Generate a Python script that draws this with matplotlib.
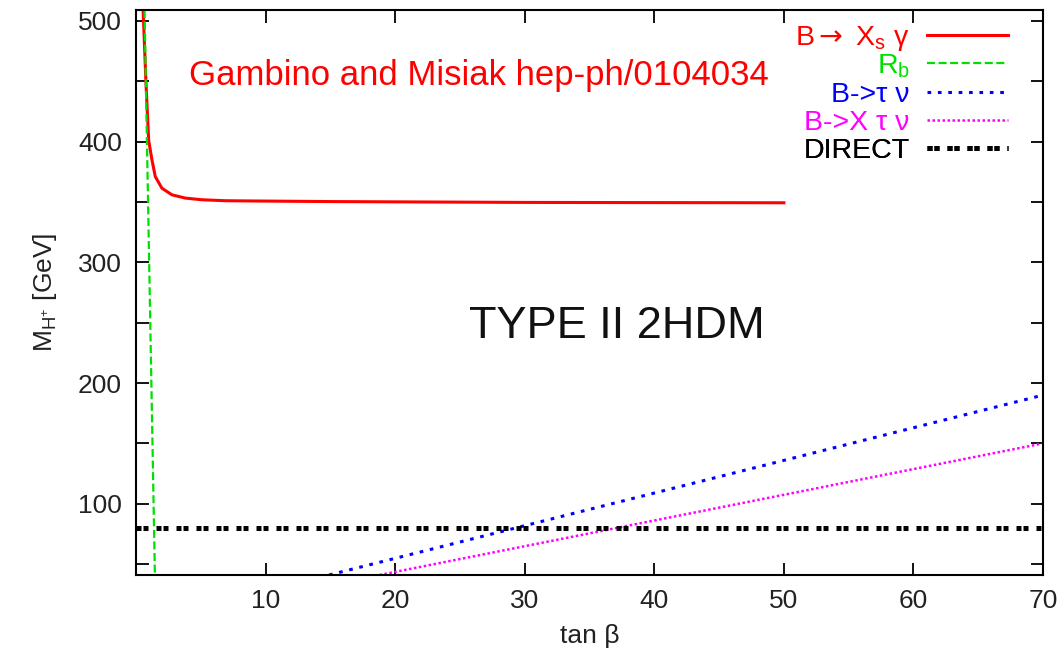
import matplotlib
matplotlib.use("Agg")
import matplotlib.pyplot as plt
from matplotlib.ticker import MultipleLocator, FuncFormatter

plt.rcParams['font.family'] = ['Liberation Sans', 'DejaVu Sans']
plt.rcParams['mathtext.fontset'] = 'custom'
plt.rcParams['mathtext.rm'] = 'Liberation Sans'
plt.rcParams['mathtext.it'] = 'Liberation Sans:italic'
plt.rcParams['mathtext.bf'] = 'Liberation Sans:bold'
plt.rcParams['mathtext.sf'] = 'DejaVu Sans'

# curves (tan beta, M_H+ in GeV)
tanb_bsg = [0.55, 0.77, 0.98, 1.23, 1.49, 2.0, 2.77, 3.8, 5.08, 6.88, 8.94, 15, 30, 50]
mh_bsg = [509, 449, 401, 385, 371, 361.4, 355.9, 353.2, 351.8, 351, 350.8, 350.3, 349.6, 349.3]

tanb_rb = [0.66, 1.46]
mh_rb = [509, 41]

tanb_btaunu = [14.9, 70]
mh_btaunu = [41, 190]

tanb_bxtaunu = [18.8, 70]
mh_bxtaunu = [41, 150]

tanb_direct = [0, 70]
mh_direct = [80, 80]

labels = ["B$\\mathsf{\\rightarrow}$ X$_\\mathrm{s}$ γ", "R$_\\mathrm{b}$", "B->τ ν", "B->X τ ν", "DIRECT"]
colors = ["#ff0000", "#00e000", "#0000ff", "#ff00ff", "#000000"]
# legend rows, axes fraction
legend_rows = [0.950, 0.901, 0.850, 0.800, 0.750]

fig = plt.figure(figsize=(10.59, 6.6), dpi=100)
ax = fig.add_axes([0.1284, 0.1288, 0.8565, 0.8561])

lines = []
lines += ax.plot(tanb_bsg, mh_bsg, color=colors[0], lw=2.2)
lines += ax.plot(tanb_rb, mh_rb, color=colors[1], lw=1.6, linestyle=(0, (3.6, 1.6)))
lines += ax.plot(tanb_btaunu, mh_btaunu, color=colors[2], lw=2.2, linestyle=(0, (1.2, 2.2)))
lines += ax.plot(tanb_bxtaunu, mh_bxtaunu, color=colors[3], lw=1.8, linestyle=(0, (1, 1)))
lines += ax.plot(tanb_direct, mh_direct, color=colors[4], lw=3.6, linestyle=(0, (1, 0.4, 1, 1.6)))

ax.set_xlim(0, 70)
ax.set_ylim(41, 509)

ax.xaxis.set_major_locator(MultipleLocator(10))
ax.xaxis.set_major_formatter(FuncFormatter(lambda v, p: "" if v == 0 else f"{v:.0f}"))
ax.yaxis.set_major_locator(MultipleLocator(50))
ax.yaxis.set_major_formatter(FuncFormatter(lambda v, p: f"{v:.0f}" if v % 100 == 0 else ""))
ax.tick_params(direction='in', length=9, width=1.3, labelsize=19, top=True, right=True,
               labelcolor='#222222', pad=10)
for s in ax.spines.values():
    s.set_linewidth(1.5)

ax.set_xlabel("tan β", fontsize=19, color='#222222', labelpad=8)
ax.set_ylabel("M$_{\\mathrm{H}^{+}}$ [GeV]", fontsize=19, color='#222222', labelpad=14)

ax.text(0.058, 0.884, "Gambino and Misiak hep-ph/0104034", transform=ax.transAxes,
        fontsize=25, color='red', va='center', ha='left')
ax.text(0.53, 0.44, "TYPE II 2HDM", transform=ax.transAxes,
        fontsize=32.5, color='#111111', va='center', ha='center')

# gnuplot-style key: one row per curve, text right-aligned before the sample
for line, lab, yrow in zip(lines, labels, legend_rows):
    leg = ax.legend([line], [lab], loc='center right', bbox_to_anchor=(0.9614, yrow),
                    frameon=False, markerfirst=False, fontsize=20.5, handlelength=2.85,
                    handletextpad=0.6, borderpad=0, borderaxespad=0, labelcolor='linecolor')
    ax.add_artist(leg)

fig.savefig("out.png", dpi=100)
